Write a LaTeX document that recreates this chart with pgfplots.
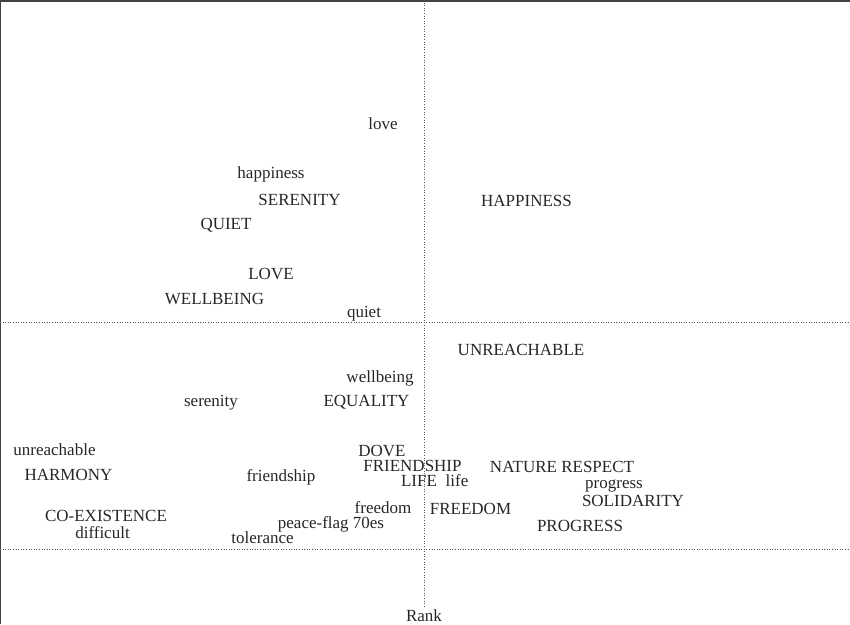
\documentclass[border=0pt]{standalone}
\usepackage{pgfplots}
\pgfplotsset{compat=1.18}
\usepackage{fontspec}
\setmainfont{Liberation Serif}
\definecolor{txt}{HTML}{262626}
\definecolor{dots}{HTML}{555555}
\definecolor{frame}{HTML}{444444}
\begin{document}
\begin{tikzpicture}
\begin{axis}[
  name=ax,
  width=850bp, height=624bp, scale only axis,
  xmin=0, xmax=850, ymin=0, ymax=624,
  hide axis,
  clip=false,
]
% frame (left and top)
\addplot[frame, line width=1.5bp] coordinates {(0.7,0) (0.7,623.2)};
\addplot[frame, line width=2bp] coordinates {(0,623) (850,623)};
% dotted reference lines
\addplot[dots, line width=1bp, dash pattern=on 1bp off 1.6bp] coordinates {(424.5,624) (424.5,16)};
\addplot[dots, line width=1bp, dash pattern=on 1bp off 1.6bp] coordinates {(0,301) (850,301)};
\addplot[dots, line width=1bp, dash pattern=on 1bp off 1.6bp] coordinates {(0,75) (850,75)};
% words
\addplot[only marks, mark=none, point meta=explicit symbolic,
  nodes near coords,
  every node near coord/.append style={anchor=base, inner sep=0pt, outer sep=0pt, text=txt,
    font=\fontsize{17bp}{20bp}\selectfont}]
coordinates {
(383,494.7) [love]
(271,445) [happiness]
(299.5,418) [SERENITY]
(526.5,417.3) [HAPPINESS]
(226,394) [QUIET]
(271,344) [LOVE]
(214.5,319) [WELLBEING]
(364,306) [quiet]
(521,269) [UNREACHABLE]
(380,241.3) [wellbeing]
(211,217.3) [serenity]
(366.5,217.3) [EQUALITY]
(54.5,168.3) [unreachable]
(382,167.3) [DOVE]
(68.5,144) [HARMONY]
(412.5,153) [FRIENDSHIP]
(562,151.3) [NATURE RESPECT]
(281,142.3) [friendship]
(419,138) [LIFE]
(457,138) [life]
(614,135.7) [progress]
(633,117.3) [SOLIDARITY]
(383,110.7) [freedom]
(470.5,110) [FREEDOM]
(106,102.3) [CO-EXISTENCE]
(331,95.7) [peace-flag 70es]
(580,93) [PROGRESS]
(102.5,85.7) [difficult]
(262.5,80.7) [tolerance]
(424,3) [Rank]
};
\end{axis}
\pgfresetboundingbox
\path (ax.south west) rectangle (ax.north east);
\end{tikzpicture}
\end{document}
